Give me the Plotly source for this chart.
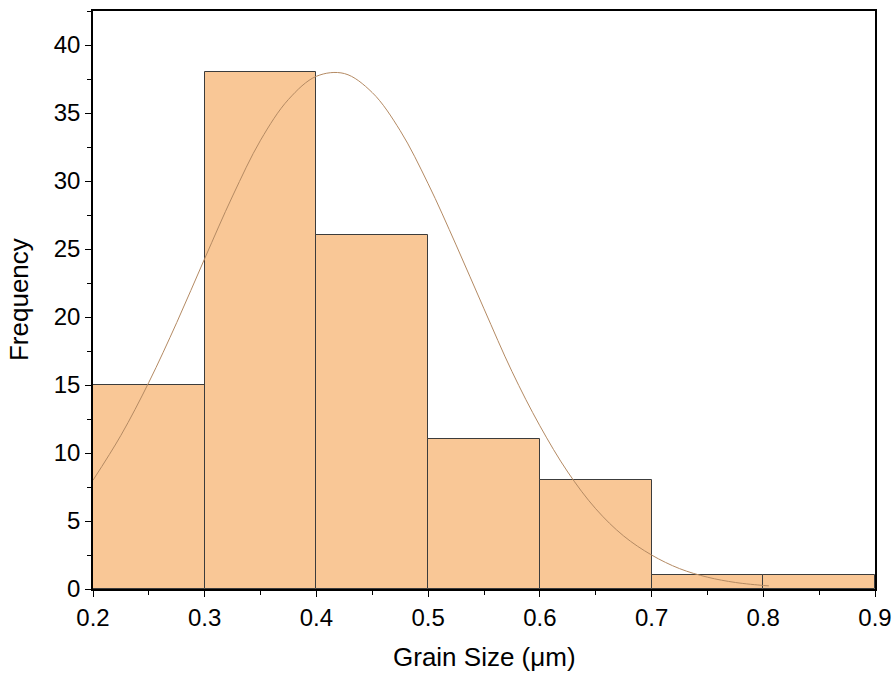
import plotly.graph_objects as go

# Histogram data
bin_left = [0.2, 0.3, 0.4, 0.5, 0.6, 0.7, 0.8]
bin_width = 0.1
counts = [15, 38, 26, 11, 8, 1, 1]

# Fitted normal curve
fit_x = [0.200, 0.225, 0.250, 0.275, 0.300, 0.325, 0.350, 0.375, 0.400, 0.425,
         0.450, 0.475, 0.500, 0.525, 0.550, 0.575, 0.600, 0.625, 0.650, 0.675,
         0.700, 0.725, 0.750, 0.775, 0.800, 0.805]
fit_y = [8.0, 11.3, 15.2, 19.6, 24.3, 28.9, 33.0, 36.0, 37.7, 37.9,
         36.5, 33.7, 29.8, 25.3, 20.6, 16.0, 12.0, 8.6, 5.9, 3.9,
         2.5, 1.5, 0.87, 0.48, 0.26, 0.23]

x_ticks = [0.2, 0.3, 0.4, 0.5, 0.6, 0.7, 0.8, 0.9]
x_tick_text = ["0.2", "0.3", "0.4", "0.5", "0.6", "0.7", "0.8", "0.9"]
y_ticks = [0, 5, 10, 15, 20, 25, 30, 35, 40]

x_title = "Grain Size (\u03bcm)"
y_title = "Frequency"

centers = [b + bin_width / 2 for b in bin_left]

fig = go.Figure()
fig.add_trace(go.Bar(
    x=centers, y=counts, width=[bin_width] * len(counts),
    marker=dict(color="#F9C796", line=dict(color="#3C3C3C", width=1)),
    showlegend=False,
))
fig.add_trace(go.Scatter(
    x=fit_x, y=fit_y, mode="lines",
    line=dict(color="#B48A63", width=1, shape="spline"),
    showlegend=False,
))

font_family = "Liberation Sans, Arial, sans-serif"
fig.update_layout(
    width=896, height=678,
    margin=dict(l=93, r=21, t=11, b=89),
    paper_bgcolor="white", plot_bgcolor="white",
    font=dict(family=font_family, size=24, color="black"),
    bargap=0,
)
fig.update_xaxes(
    range=[0.2, 0.9], tickvals=x_ticks, ticktext=x_tick_text,
    showgrid=False, zeroline=False, automargin=False,
    showline=True, linecolor="black", linewidth=1.5, mirror=True,
    ticks="outside", ticklen=6, tickwidth=1.2, tickcolor="black",
    minor=dict(dtick=0.05, ticks="outside", ticklen=4, tickwidth=1.2, tickcolor="black"),
    tickfont=dict(size=24),
)
fig.update_yaxes(
    range=[0, 42.5], tickvals=y_ticks,
    showgrid=False, zeroline=False, automargin=False,
    showline=True, linecolor="black", linewidth=1.5, mirror=True,
    ticks="outside", ticklen=6, tickwidth=1.2, tickcolor="black",
    minor=dict(dtick=2.5, ticks="outside", ticklen=4, tickwidth=1.2, tickcolor="black"),
    tickfont=dict(size=24),
)
fig.add_annotation(
    text=x_title, xref="paper", yref="paper", x=0.5, y=-0.1176,
    xanchor="center", yanchor="middle", showarrow=False,
    font=dict(size=26, family=font_family, color="black"),
)
fig.add_annotation(
    text=y_title, xref="paper", yref="paper", x=-0.0946, y=0.5,
    xanchor="center", yanchor="middle", textangle=-90, showarrow=False,
    font=dict(size=26, family=font_family, color="black"),
)

fig.write_html("out.html")
